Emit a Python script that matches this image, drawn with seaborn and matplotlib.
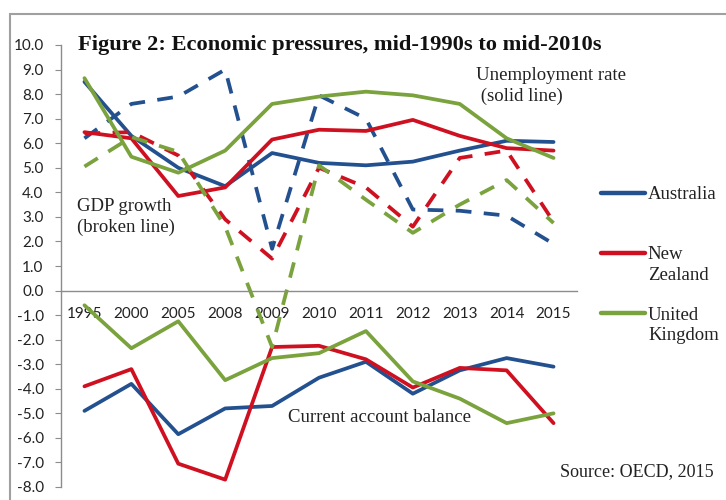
import numpy as np
import pandas as pd
import seaborn as sns
import matplotlib.pyplot as plt
from matplotlib.lines import Line2D
from matplotlib.patches import Rectangle

sns.set_style("white")
plt.rcParams["font.family"] = ["Liberation Serif", "DejaVu Serif"]
plt.rcParams["axes.unicode_minus"] = False

# data (per cent)
years = ["1995", "2000", "2005", "2008", "2009", "2010", "2011", "2012", "2013", "2014", "2015"]
countries = ["Australia", "New Zealand", "United Kingdom"]

unemp_aus = [8.5, 6.3, 5.0, 4.25, 5.6, 5.2, 5.1, 5.25, 5.7, 6.1, 6.05]
unemp_nz = [6.45, 6.2, 3.85, 4.2, 6.15, 6.55, 6.5, 6.95, 6.3, 5.8, 5.7]
unemp_uk = [8.65, 5.45, 4.8, 5.7, 7.6, 7.9, 8.1, 7.95, 7.6, 6.2, 5.4]

gdp_aus = [6.2, 7.6, 7.9, 9.0, 1.7, 7.95, 7.0, 3.3, 3.25, 3.05, 1.9]
gdp_nz = [6.4, 6.45, 5.5, 2.9, 1.3, 5.0, 4.2, 2.6, 5.4, 5.7, 2.8]
gdp_uk = [5.05, 6.25, 5.65, 2.6, -2.3, 5.1, 3.7, 2.35, 3.5, 4.5, 2.75]

ca_aus = [-4.9, -3.8, -5.85, -4.8, -4.7, -3.55, -2.9, -4.2, -3.25, -2.75, -3.1]
ca_nz = [-3.9, -3.2, -7.05, -7.7, -2.3, -2.25, -2.8, -3.95, -3.15, -3.25, -5.4]
ca_uk = [-0.6, -2.35, -1.25, -3.65, -2.75, -2.55, -1.65, -3.7, -4.4, -5.4, -5.0]

colors = {"Australia": "#23508F", "New Zealand": "#CF1020", "United Kingdom": "#7AA23D"}

series = {
    ("Australia", "Unemployment"): unemp_aus,
    ("New Zealand", "Unemployment"): unemp_nz,
    ("United Kingdom", "Unemployment"): unemp_uk,
    ("Australia", "GDP growth"): gdp_aus,
    ("New Zealand", "GDP growth"): gdp_nz,
    ("United Kingdom", "GDP growth"): gdp_uk,
    ("Australia", "Current account"): ca_aus,
    ("New Zealand", "Current account"): ca_nz,
    ("United Kingdom", "Current account"): ca_uk,
}
rows = []
for (country, measure), vals in series.items():
    for y, v in zip(years, vals):
        rows.append({"year": y, "country": country, "measure": measure, "value": v})
df = pd.DataFrame(rows)

fig = plt.figure(figsize=(7.26, 5.0), dpi=100)
ax = fig.add_axes([61 / 726, 13 / 500, 516 / 726, 442 / 500])

sns.lineplot(data=df, x="year", y="value", hue="country", style="measure",
             palette=colors, hue_order=countries,
             dashes={"Unemployment": "", "GDP growth": (4.2, 3.3), "Current account": ""},
             linewidth=2.7, errorbar=None, legend=False, sort=False, ax=ax)

ax.set_xlim(-0.5, len(years) - 0.5)
ax.set_ylim(-8, 10)
ax.set_yticks(np.arange(-8, 11))
ax.set_yticklabels([f"{v:.1f}" for v in np.arange(-8, 11)])
ax.set_xticks(range(len(years)))
ax.set_xticklabels(years)
ax.set_xticks(np.arange(-0.5, len(years)), minor=True)
ax.set_xlabel("")
ax.set_ylabel("")

ax.spines["top"].set_visible(False)
ax.spines["right"].set_visible(False)
ax.spines["bottom"].set_position(("data", 0))
for s in ("left", "bottom"):
    ax.spines[s].set_color("#8C8C8C")
    ax.spines[s].set_linewidth(1.0)

ax.tick_params(axis="x", which="major", length=0, pad=12, labelsize=11,
               labelcolor="#222222", labelfontfamily="Lato")
ax.tick_params(axis="x", which="minor", length=4.5, color="#8C8C8C", direction="out")
ax.tick_params(axis="y", length=4.5, color="#8C8C8C", direction="out", pad=8,
               labelsize=11, labelcolor="#222222", labelfontfamily="Lato", left=True)

# title and annotations
fig.text(78 / 726, 1 - 45 / 500, "Figure 2: Economic pressures, mid-1990s to mid-2010s",
         fontsize=16.2, fontweight="bold", va="center", ha="left", color="#111111")
fig.text(476 / 726, 1 - 86 / 500, "Unemployment rate\n (solid line)", fontsize=13.5,
         va="center", ha="left", linespacing=1.3, color="#222222")
fig.text(77 / 726, 1 - 217 / 500, "GDP growth\n(broken line)", fontsize=13.5,
         va="center", ha="left", linespacing=1.3, color="#222222")
fig.text(288 / 726, 1 - 417 / 500, "Current account balance", fontsize=13.5,
         va="center", ha="left", color="#222222")
fig.text(560 / 726, 1 - 472 / 500, "Source: OECD, 2015", fontsize=13,
         va="center", ha="left", color="#222222")

# legend: first word next to the handle, second word on the line below
handles = [Line2D([], [], color=colors[c], lw=3.2) for c in countries]
leg = ax.legend(handles, ["Australia", "New", "United"], loc="upper left",
                bbox_to_anchor=(601 / 726, 1 - 186 / 500), bbox_transform=fig.transFigure,
                frameon=False, fontsize=13.5, handlelength=2.35, handletextpad=0.15,
                labelspacing=2.3, borderpad=0, borderaxespad=0)
for t in leg.get_texts():
    t.set_color("#222222")
fig.text(648 / 726, 1 - 276 / 500, "Zealand", fontsize=13.5, va="center", ha="left",
         color="#222222")
fig.text(648 / 726, 1 - 336 / 500, "Kingdom", fontsize=13.5, va="center", ha="left",
         color="#222222")

# grey frame round the chart
fig.add_artist(Rectangle((10 / 726, -0.05), 1.0, 1.05 - 14 / 500, transform=fig.transFigure,
                         fill=False, edgecolor="#A0A0A0", lw=1.5))

fig.savefig("out.png", dpi=100)
